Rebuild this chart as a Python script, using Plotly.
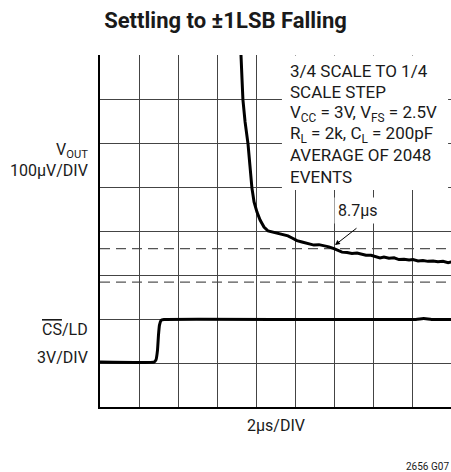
import plotly.graph_objects as go

# ---- data (x in microseconds, y in scope divisions) ----
vout_t = [7.15, 7.23, 7.28, 7.33, 7.44, 7.59, 7.69, 7.79, 7.90, 8.05, 8.21, 8.41, 8.62, 8.87,
          9.13, 9.38, 9.64, 9.85, 10.10, 10.36, 10.67, 10.97, 11.23, 11.49, 11.74, 12.00, 12.21,
          12.41, 12.67, 12.92, 13.18, 13.44, 13.64, 13.90, 14.15, 14.36, 14.56, 14.82, 15.08,
          15.33, 15.59, 15.85, 16.05, 16.31, 16.56, 16.82, 17.08, 17.33, 17.59, 17.85, 18.05]
vout_div = [8.34, 8.00, 7.48, 6.98, 6.48, 5.98, 5.48, 4.98, 4.66, 4.43, 4.25, 4.09, 4.00, 3.97,
            3.95, 3.92, 3.89, 3.84, 3.78, 3.75, 3.72, 3.68, 3.69, 3.67, 3.64, 3.60, 3.55,
            3.52, 3.51, 3.49, 3.50, 3.48, 3.45, 3.45, 3.41, 3.39, 3.41, 3.38, 3.39,
            3.35, 3.36, 3.34, 3.35, 3.32, 3.33, 3.31, 3.32, 3.30, 3.31, 3.28, 3.30]

cs_t = [0.0, 2.77, 2.87, 2.95, 3.00, 3.05, 3.13, 3.28, 10.0, 16.2, 16.6, 17.0, 18.05]
cs_div = [1.02, 1.02, 1.07, 1.30, 1.64, 1.86, 1.97, 1.99, 1.99, 1.99, 2.01, 1.99, 1.99]

lsb_band = [3.60, 2.84]          # +/-1LSB limits (divisions)
settle_time_label = "8.7µs"
settle_point = (12.05, 3.68)

box_lines = ["3/4 SCALE TO 1/4",
             "SCALE STEP",
             "V<sub>CC</sub> = 3V, V<sub>FS</sub> = 2.5V",
             "R<sub>L</sub> = 2k, C<sub>L</sub> = 200pF",
             "AVERAGE OF 2048",
             "EVENTS"]

FONT = "Roboto, Liberation Sans, sans-serif"
TXT = "#1a1a1a"

def tfont(size, bold=False):
    return dict(family=FONT, size=size, color=TXT, weight="bold" if bold else "normal")

fig = go.Figure()
fig.add_trace(go.Scatter(x=vout_t, y=vout_div, mode="lines",
                         line=dict(color="black", width=3), hoverinfo="skip"))
fig.add_trace(go.Scatter(x=cs_t, y=cs_div, mode="lines",
                         line=dict(color="black", width=3, shape="spline", smoothing=0.3),
                         hoverinfo="skip"))

for lv in lsb_band:
    fig.add_shape(type="line", xref="x", yref="y", x0=0, x1=18, y0=lv, y1=lv,
                  line=dict(color="#555555", width=1.2, dash="10px,6px"), layer="below")

# white box behind notes
fig.add_shape(type="rect", xref="x", yref="y", x0=9.33, x1=17.85, y0=4.93, y1=7.99,
              fillcolor="white", line=dict(width=0), layer="above")

line_y = [7.64, 7.16, 6.68, 6.20, 5.72, 5.22]
for txt, yy in zip(box_lines, line_y):
    fig.add_annotation(x=9.62, y=yy, xref="x", yref="y", text=txt, showarrow=False,
                       xanchor="left", yanchor="middle", font=tfont(17))

# settle label and arrow
fig.add_annotation(x=13.23, y=4.47, xref="x", yref="y", text=settle_time_label, showarrow=False,
                   xanchor="center", yanchor="middle", bgcolor="white", borderpad=3,
                   font=tfont(16))
fig.add_annotation(x=settle_point[0], y=settle_point[1], xref="x", yref="y", text="",
                   showarrow=True, arrowhead=2, arrowsize=1, arrowwidth=1, arrowcolor="black",
                   ax=23, ay=-18)

# left labels
LX = -0.028
fig.add_annotation(x=LX, y=0.73, xref="paper", yref="paper", text="V<sub>OUT</sub>",
                   showarrow=False, xanchor="right", yanchor="middle", font=tfont(16))
fig.add_annotation(x=LX, y=0.671, xref="paper", yref="paper", text="100µV/DIV",
                   showarrow=False, xanchor="right", yanchor="middle", font=tfont(16))
fig.add_annotation(x=LX, y=0.219, xref="paper", yref="paper",
                   text='<span style="text-decoration:overline">CS</span>/LD',
                   showarrow=False, xanchor="right", yanchor="middle", font=tfont(16))
fig.add_annotation(x=LX, y=0.142, xref="paper", yref="paper", text="3V/DIV",
                   showarrow=False, xanchor="right", yanchor="middle", font=tfont(16))

fig.add_annotation(x=0.5, y=-0.052, xref="paper", yref="paper", text="2µs/DIV", showarrow=False,
                   xanchor="center", yanchor="middle", font=tfont(16))
fig.add_annotation(x=1.0, y=-0.168, xref="paper", yref="paper", text="2656 G07", showarrow=False,
                   xanchor="right", yanchor="middle", font=tfont(10))

fig.update_layout(
    width=451, height=472,
    margin=dict(l=100, r=0, t=55, b=65),
    paper_bgcolor="white", plot_bgcolor="white",
    showlegend=False,
    title=dict(text="Settling to ±1LSB Falling", x=0.5, xanchor="center",
               y=0.958, yanchor="middle", font=tfont(22, bold=True)),
    xaxis=dict(range=[0, 18], dtick=2, showticklabels=False, ticks="", showgrid=True,
               gridcolor="#444444", gridwidth=1, zeroline=False,
               showline=True, linecolor="black", linewidth=2),
    yaxis=dict(range=[0, 8], dtick=1, showticklabels=False, ticks="", showgrid=True,
               gridcolor="#444444", gridwidth=1, zeroline=False,
               showline=True, linecolor="black", linewidth=2),
)
fig.write_html("out.html", config={"displayModeBar": False},
               post_script="document.body.style.margin='0';")
